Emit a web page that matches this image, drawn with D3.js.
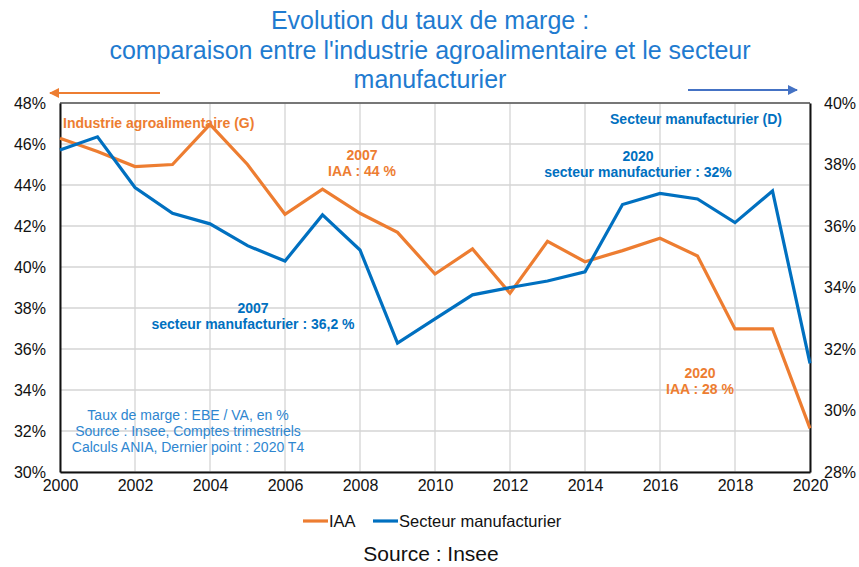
<!DOCTYPE html>
<html><head><meta charset="utf-8">
<script src="https://cdn.jsdelivr.net/npm/d3@7"></script>
<style>body{margin:0;background:#fff}svg{display:block}text{font-family:"Liberation Sans",Arial,sans-serif}</style>
</head><body><svg id="c" width="859" height="567"></svg>
<script>
const years = [2000,2001,2002,2003,2004,2005,2006,2007,2008,2009,2010,2011,2012,2013,2014,2015,2016,2017,2018,2019,2020];
const iaa = [46.28,45.63,44.9,45.0,46.96,45.0,42.57,43.8,42.62,41.69,39.66,40.88,38.72,41.25,40.26,40.8,41.4,40.54,36.98,36.98,32.13];
const manuf = [38.47,38.9,37.25,36.41,36.07,35.36,34.86,36.36,35.22,32.19,32.98,33.76,34.0,34.21,34.51,36.7,37.06,36.88,36.11,37.14,31.53];
const leftTicks = [30,32,34,36,38,40,42,44,46,48];
const rightTicks = [28,30,32,34,36,38,40];
const xTicks = [2000,2002,2004,2006,2008,2010,2012,2014,2016,2018,2020];
const titleLines = ["Evolution du taux de marge :","comparaison entre l'industrie agroalimentaire et le secteur","manufacturier"];
const noteLines = ["Taux de marge : EBE / VA, en %","Source : Insee, Comptes trimestriels","Calculs ANIA, Dernier point : 2020 T4"];

const ORANGE="#ED7D31", BLUE="#0070C0";
const svg=d3.select("#c");
const L=60,R=810,T=103,B=472;
const x=d3.scaleLinear().domain([2000,2020]).range([L,R]);
const yL=d3.scaleLinear().domain([30,48]).range([B,T]);
const yR=d3.scaleLinear().domain([28,40]).range([B,T]);

// title
svg.append("g").selectAll("text").data(titleLines).join("text")
  .attr("x",430).attr("y",(d,i)=>29+i*29.5).attr("text-anchor","middle")
  .attr("font-size",25).attr("fill","#1F7BD0").text(d=>d);

// grid
svg.append("g").selectAll("line").data(leftTicks).join("line")
  .attr("x1",L).attr("x2",R).attr("y1",d=>yL(d)).attr("y2",d=>yL(d))
  .attr("stroke","#D4D4D4").attr("stroke-width",1.3);
svg.append("g").selectAll("line").data(xTicks).join("line")
  .attr("x1",d=>x(d)).attr("x2",d=>x(d)).attr("y1",T).attr("y2",B)
  .attr("stroke","#D4D4D4").attr("stroke-width",1.3);
// frame
svg.append("line").attr("x1",L).attr("x2",R).attr("y1",T).attr("y2",T).attr("stroke","#555").attr("stroke-width",1.3);

// axes
const axL=svg.append("g").attr("transform",`translate(${L},0)`).call(d3.axisLeft(yL).tickValues(leftTicks).tickFormat(d=>d+"%").tickSize(0).tickPadding(14));
const axR=svg.append("g").attr("transform",`translate(${R},0)`).call(d3.axisRight(yR).tickValues(rightTicks).tickFormat(d=>d+"%").tickSize(0).tickPadding(14));
const axB=svg.append("g").attr("transform",`translate(0,${B})`).call(d3.axisBottom(x).tickValues(xTicks).tickFormat(d3.format("d")).tickSize(0).tickPadding(8));
[axL,axR,axB].forEach(a=>{a.select(".domain").attr("stroke","#111").attr("stroke-width",2);
  a.selectAll("text").attr("font-size",16).attr("fill","#111").attr("font-family","Liberation Sans, Arial, sans-serif");});

// lines
const lineL=d3.line().x((d,i)=>x(years[i])).y(d=>yL(d));
const lineR=d3.line().x((d,i)=>x(years[i])).y(d=>yR(d));
svg.append("path").datum(iaa).attr("d",lineL).attr("fill","none").attr("stroke",ORANGE).attr("stroke-width",3.2).attr("stroke-linejoin","miter");
svg.append("path").datum(manuf).attr("d",lineR).attr("fill","none").attr("stroke",BLUE).attr("stroke-width",3.2).attr("stroke-linejoin","miter");

// arrows
const defs=svg.append("defs");
[["aO",ORANGE],["aB","#4472C4"]].forEach(([id,c])=>{
  defs.append("marker").attr("id",id).attr("viewBox","0 0 10 10").attr("refX",9).attr("refY",5)
    .attr("markerWidth",5).attr("markerHeight",5).attr("orient","auto")
    .append("path").attr("d","M0,0L10,5L0,10z").attr("fill",c);
});
svg.append("line").attr("x1",160).attr("x2",50).attr("y1",93).attr("y2",93).attr("stroke",ORANGE).attr("stroke-width",2).attr("marker-end","url(#aO)");
svg.append("line").attr("x1",688).attr("x2",797).attr("y1",90).attr("y2",90).attr("stroke","#4472C4").attr("stroke-width",2).attr("marker-end","url(#aB)");

// annotations
function ann(lines,cx,y0,color,anchor){
  svg.append("g").selectAll("text").data(lines).join("text")
   .attr("x",cx).attr("y",(d,i)=>y0+i*16).attr("text-anchor",anchor||"middle")
   .attr("font-size",14).attr("font-weight","bold").attr("fill",color).text(d=>d);
}
ann(["Industrie agroalimentaire (G)"],63,128,ORANGE,"start");
ann(["Secteur manufacturier (D)"],696,124,BLUE);
ann(["2007","IAA : 44 %"],362,160,ORANGE);
ann(["2020","secteur manufacturier : 32%"],638,161,BLUE);
ann(["2007","secteur manufacturier : 36,2 %"],253,313,BLUE);
ann(["2020","IAA : 28 %"],700,378,ORANGE);

svg.append("g").selectAll("text").data(noteLines).join("text")
  .attr("x",188).attr("y",(d,i)=>420+i*16).attr("text-anchor","middle")
  .attr("font-size",14).attr("fill","#2E86D0").text(d=>d);

// legend
const leg=[["IAA",ORANGE,303],["Secteur manufacturier",BLUE,373]];
leg.forEach(([t,c,lx])=>{
  svg.append("line").attr("x1",lx).attr("x2",lx+25).attr("y1",521).attr("y2",521).attr("stroke",c).attr("stroke-width",3.2);
  svg.append("text").attr("x",lx+26).attr("y",527).attr("font-size",16.5).attr("fill","#111").text(t);
});

svg.append("text").attr("x",431).attr("y",561).attr("text-anchor","middle").attr("font-size",21)
  .attr("font-family","Open Sans, sans-serif").attr("fill","#111").text("Source : Insee");
</script></body></html>
